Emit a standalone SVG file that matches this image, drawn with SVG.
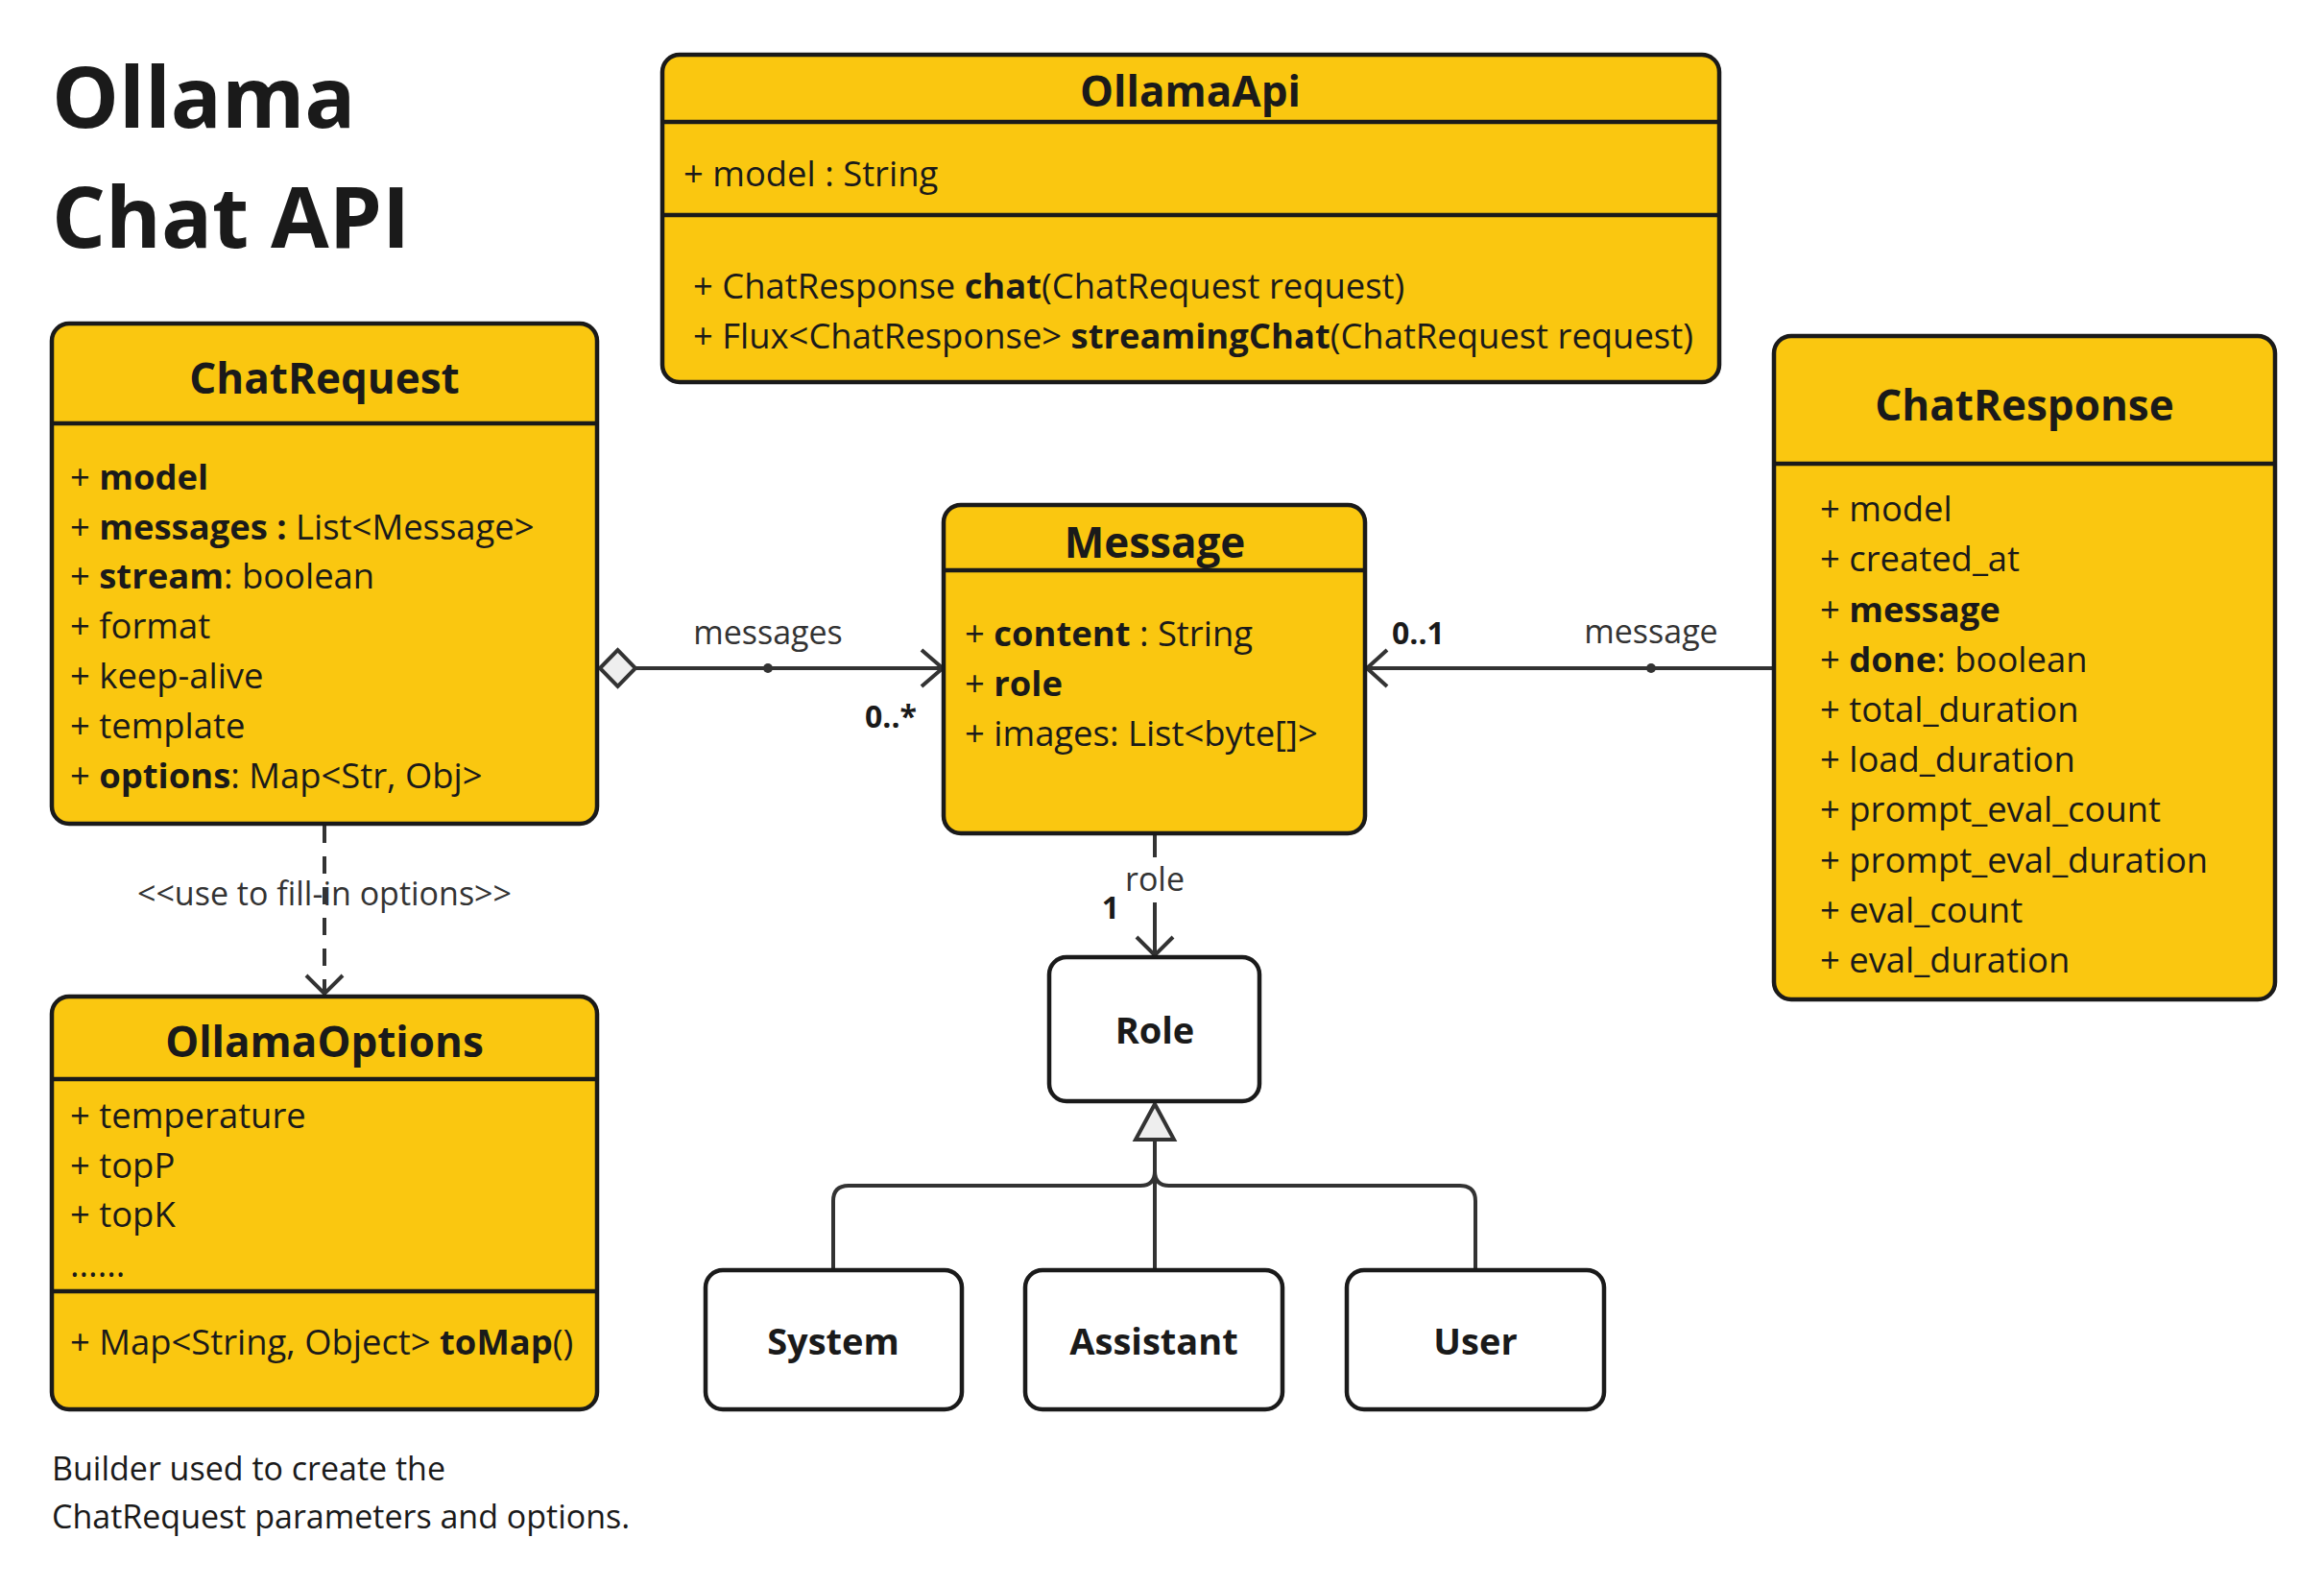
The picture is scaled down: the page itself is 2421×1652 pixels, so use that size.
<svg xmlns="http://www.w3.org/2000/svg" width="2421" height="1652" viewBox="0 0 2421 1652">
<style>
text{font-family:"Open Sans","Noto Sans","Liberation Sans",sans-serif;fill:#1a1a1a}
.title{font-size:88px;font-weight:700}
.cls{fill:#FAC710;stroke:#1a1a1a;stroke-width:4.5}
.plain{fill:#ffffff;stroke:#1a1a1a;stroke-width:4.5}
.sep{stroke:#1a1a1a;stroke-width:4.5}
.hd{font-size:44px;font-weight:700;text-anchor:middle}
.at{font-size:36.4px}
.b{font-weight:700}
.nm{font-size:38px;font-weight:700;text-anchor:middle}
.lbl{font-size:34px;fill:#333;text-anchor:middle}
.mult{font-size:32px;font-weight:700}
.ln{fill:none;stroke:#333;stroke-width:4}
.hollow{fill:#eeeeee;stroke:#333;stroke-width:4}
.note{font-size:34px}
</style>

<g id="title">
<text class="title" x="54" y="133">Ollama</text>
<text class="title" x="54" y="258">Chat API</text>
</g>

<g id="connectors">
<!-- messages: ChatRequest -> Message -->
<line class="ln" x1="662" y1="696" x2="982" y2="696"/>
<polygon class="hollow" points="625,696 643.5,677 662,696 643.5,715"/>
<polyline class="ln" points="960,677 982,696 960,715"/>
<circle cx="800" cy="696" r="5" fill="#333"/>
<text class="lbl" x="800" y="671">messages</text>
<text class="mult" x="955" y="758" text-anchor="end">0..*</text>

<!-- message: ChatResponse -> Message -->
<line class="ln" x1="1847" y1="696" x2="1424" y2="696"/>
<polyline class="ln" points="1445,677 1424,696 1445,715"/>
<circle cx="1720" cy="696" r="5" fill="#333"/>
<text class="lbl" x="1720" y="670">message</text>
<text class="mult" x="1450" y="671">0..1</text>

<!-- role: Message -> Role -->
<line class="ln" x1="1203" y1="868" x2="1203" y2="893"/>
<line class="ln" x1="1203" y1="940" x2="1203" y2="995"/>
<polyline class="ln" points="1184,976 1203,995 1222,976"/>
<text class="lbl" x="1203" y="928">role</text>
<text class="mult" x="1166" y="957" text-anchor="end">1</text>

<!-- use to fill-in options -->
<line class="ln" x1="338" y1="860" x2="338" y2="1034" stroke-dasharray="18 14"/>
<polyline class="ln" points="319,1016 338,1035 357,1016"/>
<text class="lbl" x="338" y="943">&lt;&lt;use to fill-in options&gt;&gt;</text>

<!-- generalization -->
<path class="ln" d="M1203 1187 V1323"/>
<path class="ln" d="M868 1323 V1251 Q868 1235 884 1235 H1188 Q1203 1235 1203 1220"/>
<path class="ln" d="M1537 1323 V1251 Q1537 1235 1521 1235 H1218 Q1203 1235 1203 1220"/>
<polygon class="hollow" points="1203,1150 1183,1187 1223,1187"/>
</g>

<g id="OllamaApi">
<rect class="cls" x="690" y="57" width="1101" height="341" rx="18"/>
<line class="sep" x1="690" y1="127" x2="1791" y2="127"/>
<line class="sep" x1="690" y1="224" x2="1791" y2="224"/>
<text class="hd" x="1240" y="111">OllamaApi</text>
<text class="at" x="712" y="194">+ model : String</text>
<text class="at" x="722" y="311">+ ChatResponse <tspan class="b">chat</tspan>(ChatRequest request)</text>
<text class="at" x="722" y="363">+ Flux&lt;ChatResponse&gt; <tspan class="b">streamingChat</tspan>(ChatRequest request)</text>
</g>

<g id="ChatRequest">
<rect class="cls" x="54" y="337" width="568" height="521" rx="18"/>
<line class="sep" x1="54" y1="441" x2="622" y2="441"/>
<text class="hd" x="338" y="410">ChatRequest</text>
<text class="at" x="73" y="510">+ <tspan class="b">model</tspan></text>
<text class="at" x="73" y="562">+ <tspan class="b">messages :</tspan> List&lt;Message&gt;</text>
<text class="at" x="73" y="613">+ <tspan class="b">stream</tspan>: boolean</text>
<text class="at" x="73" y="665">+ format</text>
<text class="at" x="73" y="717">+ keep-alive</text>
<text class="at" x="73" y="769">+ template</text>
<text class="at" x="73" y="821">+ <tspan class="b">options</tspan>: Map&lt;Str, Obj&gt;</text>
</g>

<g id="Message">
<rect class="cls" x="983" y="526" width="439" height="342" rx="18"/>
<line class="sep" x1="983" y1="594" x2="1422" y2="594"/>
<text class="hd" x="1203" y="581">Message</text>
<text class="at" x="1005" y="673">+ <tspan class="b">content</tspan> : String</text>
<text class="at" x="1005" y="725">+ <tspan class="b">role</tspan></text>
<text class="at" x="1005" y="777">+ images: List&lt;byte[]&gt;</text>
</g>

<g id="ChatResponse">
<rect class="cls" x="1848" y="350" width="522" height="691" rx="18"/>
<line class="sep" x1="1848" y1="483" x2="2370" y2="483"/>
<text class="hd" x="2109" y="438">ChatResponse</text>
<text class="at" x="1896" y="543">+ model</text>
<text class="at" x="1896" y="595">+ created_at</text>
<text class="at" x="1896" y="648">+ <tspan class="b">message</tspan></text>
<text class="at" x="1896" y="700">+ <tspan class="b">done</tspan>: boolean</text>
<text class="at" x="1896" y="752">+ total_duration</text>
<text class="at" x="1896" y="804">+ load_duration</text>
<text class="at" x="1896" y="856">+ prompt_eval_count</text>
<text class="at" x="1896" y="909">+ prompt_eval_duration</text>
<text class="at" x="1896" y="961">+ eval_count</text>
<text class="at" x="1896" y="1013">+ eval_duration</text>
</g>

<g id="OllamaOptions">
<rect class="cls" x="54" y="1038" width="568" height="430" rx="18"/>
<line class="sep" x1="54" y1="1124" x2="622" y2="1124"/>
<line class="sep" x1="54" y1="1345" x2="622" y2="1345"/>
<text class="hd" x="338" y="1101">OllamaOptions</text>
<text class="at" x="73" y="1175">+ temperature</text>
<text class="at" x="73" y="1227">+ topP</text>
<text class="at" x="73" y="1278">+ topK</text>
<text class="at" x="73" y="1330">......</text>
<text class="at" x="73" y="1411">+ Map&lt;String, Object&gt; <tspan class="b">toMap</tspan>()</text>
</g>

<g id="Role">
<rect class="plain" x="1093" y="997" width="219" height="150" rx="18"/>
<text class="nm" x="1203" y="1087">Role</text>
</g>
<g id="System">
<rect class="plain" x="735" y="1323" width="267" height="145" rx="18"/>
<text class="nm" x="868" y="1411">System</text>
</g>
<g id="Assistant">
<rect class="plain" x="1068" y="1323" width="268" height="145" rx="18"/>
<text class="nm" x="1202" y="1411">Assistant</text>
</g>
<g id="User">
<rect class="plain" x="1403" y="1323" width="268" height="145" rx="18"/>
<text class="nm" x="1537" y="1411">User</text>
</g>

<g id="note">
<text class="note" x="54" y="1542">Builder used to create the</text>
<text class="note" x="54" y="1592">ChatRequest parameters and options.</text>
</g>
</svg>
